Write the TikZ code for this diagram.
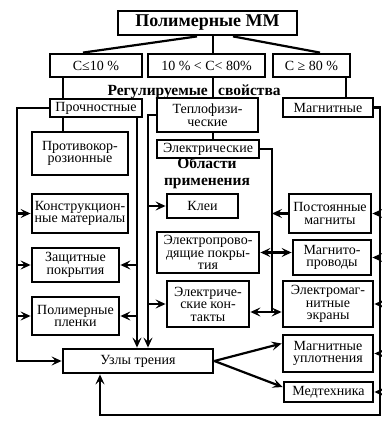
\documentclass[tikz,border=0pt]{standalone}
\usepackage{fontspec}
\setmainfont{Liberation Serif}
\usetikzlibrary{arrows.meta}
\tikzset{
    box/.style = {draw, line width=2.8pt, align=center, inner sep=1pt,
        font=\fontsize{14}{12.5}\selectfont},
    sz/.style 2 args = {minimum width=#1pt, minimum height=#2pt},
}
\tikzset{
    link/.style = {line width=2.2pt},
    arr/.style = {link, -{Stealth[length=10pt, width=9pt, inset=4pt]}},
    darr/.style = {link, {Stealth[length=10pt, width=9pt, inset=4pt]}-{Stealth[length=10pt, width=9pt, inset=4pt]}},
    heading/.style = {inner sep=0pt, font=\bfseries\fontsize{15.5}{17}\selectfont},
}

\begin{document}
\begin{tikzpicture}[x=1pt, y=-1pt]
    \useasboundingbox (0,0) rectangle (382,421);

    \node (top) [box, sz={179}{24}, font=\bfseries\fontsize{18}{18}\selectfont] at (207.5,23) {Полимерные ММ};
    \node (c1) [box, sz={92}{23}] at (96,65.5) {C≤10 \%};
    \node (c2) [box, sz={117}{23}] at (206.5,65.5) {10 \% < C< 80\%};
    \node (c3) [box, sz={77}{23}] at (311.5,65.5) {C ≥ 80 \%};

    \node (reg) [heading, anchor=base east] at (208,95.5) {Регулируемые};
    \node (sv) [heading, anchor=base west] at (218,95.5) {свойства};

    \node (pr) [box, sz={92}{18}] at (96,108) {Прочностные};
    \node (tf) [box, sz={101}{34}] at (207.5,115) {Теплофизи-\\ческие};
    \node (mg) [box, sz={90}{19}] at (328,107.5) {Магнитные};
    \node (el) [box, sz={102}{18}] at (208,149) {Электрические};

    \node (obl) [heading, align=center] at (207,173.5) {Области\\применения};

    \node (ak) [box, sz={96}{43}] at (80,153.5) {Противокор-\\розионные};
    \node (ks) [box, sz={96}{39}] at (80,213.5) {Конструкцион-\\ные материалы};
    \node (zp) [box, sz={87}{34}] at (75.5,265) {Защитные\\покрытия};
    \node (pp) [box, sz={87}{38}] at (75.5,316) {Полимерные\\пленки};
    \node (uz) [box, sz={150}{24}] at (138,361) {Узлы трения};

    \node (kl) [box, sz={71}{24}] at (202.5,206) {Клеи};
    \node (ep) [box, sz={102}{41}] at (208,252.5) {Электропрово-\\дящие покры-\\тия};
    \node (ek) [box, sz={82}{46}] at (208,304) {Электриче-\\ские кон-\\такты};

    \node (pm) [box, sz={82}{39}] at (330,213.5) {Постоянные\\магниты};
    \node (mp) [box, sz={78}{35}] at (332,257.5) {Магнито-\\проводы};
    \node (ex) [box, sz={90}{46}] at (328,304) {Электромаг-\\нитные\\экраны};
    \node (mu) [box, sz={90}{37}] at (328,353.5) {Магнитные\\уплотнения};
    \node (mt) [box, sz={89}{20}] at (328.5,392) {Медтехника};

    \coordinate (pline) at (63,0);
    \coordinate (tline) at (213,0);
    \coordinate (mline) at (346,0);
    \coordinate (lbus) at (17,0);
    \coordinate (pbus) at (137,0);
    \coordinate (tbus) at (148,0);
    \coordinate (ebus) at (272,0);
    \coordinate (ubus) at (100,0);
    \coordinate (rbus) at (380,415);
    \coordinate (ekx) at ([yshift=-8pt]ek.east);

    \draw[link] ([xshift=-10.5pt]top.south) -- ([xshift=-13pt]c1.north);
    \draw[link] ([xshift=5.5pt]top.south) -- ([xshift=6.5pt]c2.north);
    \draw[link] ([xshift=25.5pt]top.south) -- ([xshift=8.5pt]c3.north);

    \draw[link] (c1.south -| pline) -- (pr.north -| pline);
    \draw[link] (pr.south -| pline) -- (ak.north -| pline);
    \draw[link] (c2.south -| tline) -- (tf.north -| tline);
    \draw[link] (tf.south -| tline) -- (el.north -| tline);
    \draw[link] (c3.south -| mline) -- (mg.north -| mline);

    \draw[arr] (pr.west) -- (pr.west -| lbus) |- (uz.west);
    \foreach \n in {ks, zp, pp}
        \draw[arr] (\n.west -| lbus) -- (\n.west);
    \draw[arr] (pr.south -| pbus) -- (uz.north -| pbus);
    \foreach \n in {zp, pp}
        \draw[arr] (\n.east -| pbus) -- (\n.east);

    \draw[arr] (tf.west) -- (tf.west -| tbus) -- (uz.north -| tbus);
    \foreach \n in {kl, ek}
        \draw[arr] (\n.west -| tbus) -- (\n.west);

    \draw[link] (el.east) -- (el.east -| ebus) -- (ekx -| ebus);
    \draw[arr] (pm.west) -- (pm.west -| ebus);
    \draw[darr] (ep.east) -- (ep.east -| mp.west);
    \draw[darr] (ekx) -- (ekx -| ex.west);

    \draw[arr] (mg.east) -| (rbus) -| (uz.south -| ubus);
    \foreach \n in {pm, mp, ex, mu, mt}
        \draw[arr] (\n.east -| rbus) -- (\n.east);
    \draw[arr] (uz.east) -- ([yshift=10pt]mu.west);
    \draw[arr] (uz.east) -- ([yshift=5pt]mt.west);
\end{tikzpicture}
\end{document}
